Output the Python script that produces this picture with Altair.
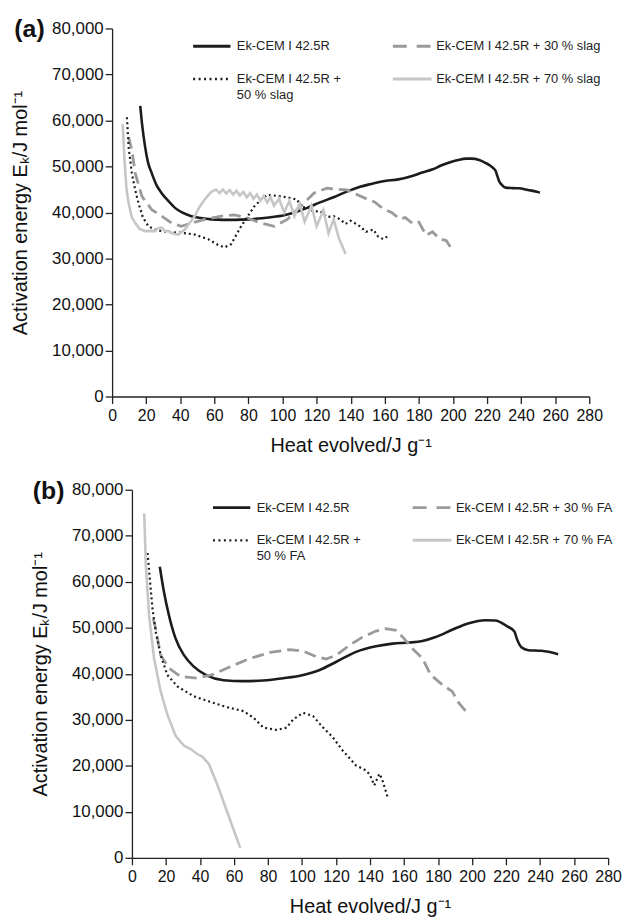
import altair as alt
import pandas as pd

FONT = "Liberation Sans"

# ---------------- shared axis values ----------------
x_ticks = list(range(0, 281, 20))
y_ticks = list(range(0, 80001, 10000))

# ---------------- Panel (a) : slag ----------------
a_cem_x = [16.5, 17.5, 19.4, 21, 23.3, 26, 29.1, 33, 36.9, 41, 46.5, 52, 58.2, 65, 71.8, 80, 87.3, 94,
           100.9, 107, 114.5, 122, 130, 138, 145.5, 152, 159.1, 168, 176.6, 182, 188.2, 193, 197.9, 203,
           207.6, 211, 215.4, 219, 223.2, 225.1, 226, 227, 229, 230.9, 235, 238.6, 244, 249.3, 251]
a_cem_y = [63200, 59500, 54200, 51000, 48500, 46000, 44200, 42500, 41000, 40000, 39200, 38800, 38500,
           38400, 38400, 38500, 38750, 39000, 39400, 40000, 41000, 42200, 43300, 44600, 45600, 46200,
           46800, 47200, 48000, 48700, 49400, 50200, 50860, 51400, 51700, 51700, 51400, 50800, 49800,
           49000, 48000, 46900, 45900, 45400, 45300, 45250, 44900, 44500, 44300]

a_s30_x = [9.7, 11.6, 13.6, 17.5, 23.3, 29.1, 34.9, 40.7, 46.5, 54.3, 64, 71.8, 79.5, 87.3, 95.1, 102.8,
           110.6, 118.4, 126.1, 130, 137.8, 143, 149.4, 154, 159.1, 164, 168.8, 172, 176.6, 180, 184.3,
           188, 192.1, 196, 199.8]
a_s30_y = [56400, 53500, 48500, 43500, 40600, 39200, 37700, 37000, 37700, 38500, 39200, 39500, 38800,
           37700, 37000, 38500, 41300, 44200, 45300, 45100, 44900, 44000, 42950, 42300, 40800, 40000,
           38600, 38900, 37550, 37900, 35050, 35800, 34300, 33900, 31800]

a_s50_x = [8.7, 9.7, 11.6, 13.5, 15.5, 18, 21.3, 25, 29.1, 35, 40.7, 48.5, 56.3, 62, 65.9, 69.8, 75.7,
           83.4, 88, 91.2, 95, 98.9, 104, 108.6, 111, 114.5, 118, 122.2, 126, 130, 133.9, 137, 140,
           145.5, 149, 153.3, 156, 159.1, 162]
a_s50_y = [60700, 54200, 48500, 45000, 42000, 39000, 37000, 36300, 35950, 35700, 35600, 35200, 34200,
           33000, 32400, 33100, 37000, 41300, 43000, 43800, 43700, 43500, 43200, 42800, 41000, 41300,
           40200, 40300, 39000, 39200, 38500, 37500, 38200, 37000, 35800, 36300, 34800, 34200, 34900]

a_s70_x = [6.2, 6.8, 7.4, 8.5, 9.7, 11.5, 13.6, 16, 19.4, 22, 25.2, 27, 29.1, 31, 33, 36, 38.8, 42.7,
           45, 48.5, 51, 54.3, 58.2, 61, 63, 65, 67, 69, 71, 73, 75, 77, 79, 81, 83, 85, 87, 89, 91, 93,
           95, 98, 101, 104, 107, 110, 113, 117, 120, 124, 127, 130, 133, 137]
a_s70_y = [59200, 55000, 50600, 45000, 42000, 39000, 37700, 36500, 35950, 36000, 35950, 36600, 36700,
           36000, 35950, 35400, 35200, 36300, 37500, 39200, 41000, 42800, 44500, 45000, 44200, 45000,
           44100, 44900, 43900, 44700, 43700, 44500, 43300, 44200, 43000, 43900, 42600, 43600, 42200,
           43300, 41500, 43000, 40000, 42500, 39200, 42000, 38000, 41500, 37000, 40500, 35500, 38500,
           34500, 31000]

# ---------------- Panel (b) : fly ash ----------------
b_cem_x = [16.4, 18.9, 21.8, 25.7, 30.6, 36.4, 44.2, 53.9, 65.6, 77.3, 89, 100.7, 110.4, 120.2, 131.8,
           143.5, 153.3, 163, 170.8, 178.6, 188.3, 198.1, 207.8, 213.6, 220.4, 224.9, 226.3, 229.2,
           233.1, 240.9, 250.6]
b_cem_y = [63250, 57660, 52650, 47640, 44050, 41550, 39610, 38610, 38400, 38540, 39040, 39760, 40830,
           42620, 44770, 45990, 46560, 46780, 47130, 47990, 49570, 51000, 51650, 51580, 50360, 49210,
           47640, 45700, 45130, 44990, 44270]

b_f30_x = [12.5, 14, 16.9, 21.8, 28.6, 38.4, 48.1, 57.8, 69.5, 81.2, 92.9, 100.7, 108.5, 114.3, 120.2,
           127.9, 135.7, 143.5, 149.4, 155.2, 160.1, 164.9, 170.8, 175.7, 182.5, 188.3, 192.2, 197.1]
b_f30_y = [52000, 49790, 44050, 41190, 39400, 39040, 39900, 41550, 43340, 44630, 45270, 44910, 43700,
           43190, 44050, 46200, 47990, 49280, 49790, 49430, 47640, 45490, 43340, 39760, 37610, 36170,
           33670, 31520]

b_f50_x = [9.2, 10.7, 12.1, 14, 16.9, 20.8, 26.7, 36.4, 46.2, 55.9, 65.6, 71.5, 77.3, 85.1, 91, 94.8,
           100.7, 106.5, 112.4, 118.2, 124, 131.8, 137.7, 140, 142.5, 145.5, 147, 150.3]
b_f50_y = [66260, 59810, 54080, 49070, 44050, 39760, 37250, 35100, 33880, 32740, 31880, 30440, 28300,
           27790, 28300, 30090, 31520, 30800, 28300, 26150, 23280, 20060, 18980, 18000, 15760, 18270,
           17190, 13250]

b_f70_x = [7.2, 8.2, 10.1, 13, 16.9, 20.8, 25.7, 30.6, 34.5, 38.4, 41.3, 45.2, 50, 54.9, 59.8, 63.7]
b_f70_y = [74860, 63400, 52650, 43340, 36170, 31160, 26500, 24360, 23640, 22560, 21990, 20420, 16120,
           11100, 6090, 2150]

# ---------------- labels ----------------
a_names = ["Ek-CEM I 42.5R", "Ek-CEM I 42.5R + 30 % slag", ["Ek-CEM I 42.5R +", "50 % slag"],
           "Ek-CEM I 42.5R + 70 % slag"]
b_names = ["Ek-CEM I 42.5R", "Ek-CEM I 42.5R + 30 % FA", ["Ek-CEM I 42.5R +", "50 % FA"],
           "Ek-CEM I 42.5R + 70 % FA"]

X_TITLE = "Heat evolved/J g\u207b\u00b9"
Y_TITLE = "Activation energy E\u2096/J mol\u207b\u00b9"

BLACK = "#1c1c1c"
MID = "#9a9a9a"
LIGHT = "#c6c6c6"

STYLES = [
    dict(color=BLACK, strokeWidth=2.6),
    dict(color=MID, strokeWidth=2.8, strokeDash=[12, 6]),
    dict(color=BLACK, strokeWidth=2.2, strokeDash=[2, 3]),
    dict(color=LIGHT, strokeWidth=2.6),
]
LEG_STYLES = [
    dict(color=BLACK, strokeWidth=3),
    dict(color=MID, strokeWidth=3, strokeDash=[14, 10]),
    dict(color=BLACK, strokeWidth=2.4, strokeDash=[2, 3.5]),
    dict(color=LIGHT, strokeWidth=3),
]

dummy = pd.DataFrame({"k": [0]})


def make_panel(label, data, names, width, shift):
    """shift: pixels by which the plot origin is moved right inside the panel group."""
    ex = alt.X("x:Q", scale=alt.Scale(domain=[0, 280], nice=False, zero=False, range=[shift, width]),
               axis=alt.Axis(values=x_ticks, title=X_TITLE, labelFontSize=16, titleFontSize=20,
                             labelPadding=4, titlePadding=12, labelFlush=False))
    ey = alt.Y("y:Q", scale=alt.Scale(domain=[0, 80000], nice=False),
               axis=alt.Axis(values=y_ticks, format=",d", title=Y_TITLE, labelFontSize=17,
                             titleFontSize=20, labelPadding=2, titlePadding=21, offset=-shift))
    layers = []
    for k, (xs, ys) in enumerate(data):
        df = pd.DataFrame({"x": xs, "y": ys, "i": list(range(len(xs)))})
        layers.append(alt.Chart(df).mark_line(
            interpolate="monotone" if k == 0 else "linear", clip=True, **STYLES[k]).encode(
            x=ex, y=ey, order="i:Q"))
    cols = [(81.7, 119.3, 125.7), (283, 322, 326.7)]
    rows = [18, 51]
    for k, name in enumerate(names):
        c = cols[k % 2]
        r = rows[k // 2]
        layers.append(alt.Chart(dummy).mark_rule(**LEG_STYLES[k]).encode(
            x=alt.value(c[0] + shift), x2=alt.value(c[1] + shift), y=alt.value(r)))
        layers.append(alt.Chart(dummy).mark_text(
            align="left", baseline="middle", font=FONT, fontSize=13, color="#222222",
            lineHeight=16).encode(
            x=alt.value(c[2] + shift), y=alt.value(r), text=alt.value(name)))
    layers.append(alt.Chart(dummy).mark_text(
        align="right", baseline="middle", font=FONT, fontSize=25, fontWeight="bold",
        color="#111111").encode(x=alt.value(-68 + shift), y=alt.value(1), text=alt.value(label)))
    return alt.layer(*layers).properties(width=width, height=371)


chart_a = make_panel("(a)", [(a_cem_x, a_cem_y), (a_s30_x, a_s30_y), (a_s50_x, a_s50_y),
                             (a_s70_x, a_s70_y)], a_names, 481, 0)
chart_b = make_panel("(b)", [(b_cem_x, b_cem_y), (b_f30_x, b_f30_y), (b_f50_x, b_f50_y),
                             (b_f70_x, b_f70_y)], b_names, 500, 20)

chart = alt.vconcat(chart_a, chart_b, spacing=24).properties(
    padding={"left": 11, "top": 14, "right": 0, "bottom": 0}
).configure_view(stroke=None).configure_axis(
    grid=False, domainColor="#222222", domainWidth=1.3, tickColor="#222222", tickWidth=1.3,
    tickSize=7, labelFont=FONT, titleFont=FONT, labelColor="#111111", titleColor="#111111",
    titleFontWeight="normal"
)

chart.save("out.html", embed_options={"renderer": "svg", "actions": False})
